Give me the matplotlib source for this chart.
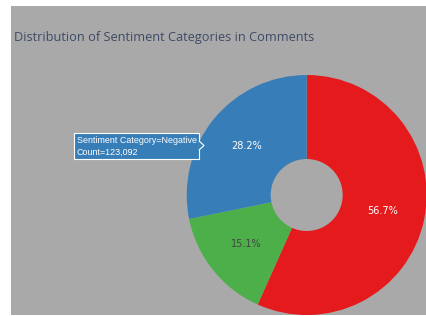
import matplotlib
matplotlib.use('Agg')
import matplotlib.pyplot as plt
from matplotlib.patches import Rectangle, Polygon

# data (counts estimated from the percentages; only Negative is shown exactly)
categories = ['Positive', 'Neutral', 'Negative']
counts = [247493, 65911, 123092]
colors = ['#e41a1c', '#4daf4a', '#377eb8']
label_colors = ['white', '#444444', 'white']

W, H = 427, 316
fig = plt.figure(figsize=(W / 100, H / 100), dpi=100)
fig.patch.set_facecolor('white')

# gray plot background
fig.patches.append(Rectangle((11 / W, 1 / H), (W - 11) / W, (H - 7) / H,
                             transform=fig.transFigure, facecolor='#a9a9a9',
                             edgecolor='none', zorder=-1))

fig.text(14 / W, 1 - 37 / H, 'Distribution of Sentiment Categories in Comments',
         fontsize=9.2, family='Open Sans', color='#3d4b66', va='center', ha='left')

# pie axes: 240px square centred at (306.7, 195)
ax = fig.add_axes([186.7 / W, (H - 315) / H, 240 / W, 240 / H])
ax.set_facecolor('none')
wedges, texts, autotexts = ax.pie(counts, colors=colors, startangle=90,
                                  counterclock=False, autopct='%1.1f%%',
                                  pctdistance=0.65,
                                  wedgeprops=dict(width=0.7, linewidth=0))
for t, c in zip(autotexts, label_colors):
    t.set_color(c)
    t.set_fontsize(7)
ax.set_xlim(-1, 1)
ax.set_ylim(-1, 1)
ax.set_aspect('equal')
ax.axis('off')

# hover tooltip
x0, y0, x1, y1 = 74, 133, 199, 159
fig.patches.append(Rectangle((x0 / W, 1 - y1 / H), (x1 - x0) / W, (y1 - y0) / H,
                             transform=fig.transFigure, facecolor='#377eb8',
                             edgecolor='white', linewidth=0.8, zorder=5))
fig.patches.append(Polygon([(x1 / W, 1 - 141 / H), (204 / W, 1 - 145.5 / H),
                            (x1 / W, 1 - 150 / H)], closed=False,
                           transform=fig.transFigure, facecolor='#377eb8',
                           edgecolor='white', linewidth=0.8, zorder=5))
fig.text(77 / W, 1 - 146.5 / H, 'Sentiment Category=Negative\nCount=123,092',
         fontsize=6.4, family='Liberation Sans', color='white', va='center',
         ha='left', linespacing=1.3, zorder=6)

fig.savefig('out.png', dpi=100)
